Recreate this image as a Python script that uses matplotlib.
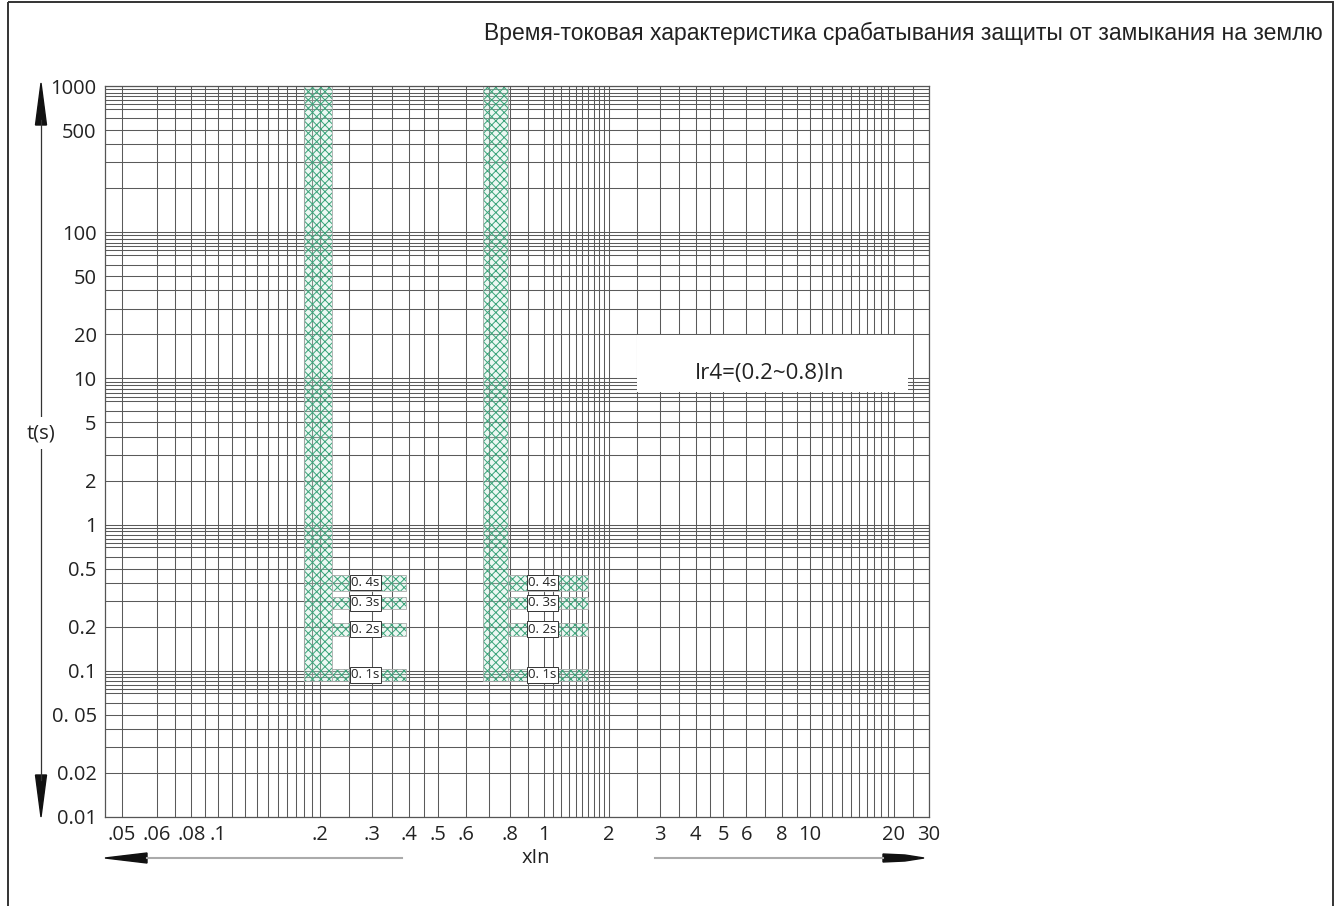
import matplotlib
matplotlib.use("Agg")
import matplotlib.pyplot as plt
import numpy as np
from matplotlib.patches import Rectangle, Polygon
from matplotlib.ticker import FixedLocator, NullFormatter

plt.rcParams['font.family'] = ['Open Sans', 'DejaVu Sans']
plt.rcParams['hatch.linewidth'] = 0.7

# ---- data ----
x_ticks = [0.05, 0.06, 0.08, 0.1, 0.2, 0.3, 0.4, 0.5, 0.6, 0.8, 1, 2, 3, 4, 5, 6, 8, 10, 20, 30]
x_labels = ['.05', '.06', '.08', '.1', '.2', '.3', '.4', '.5', '.6', '.8',
            '1', '2', '3', '4', '5', '6', '8', '10', '20', '30']
y_ticks = [1000, 500, 100, 50, 20, 10, 5, 2, 1, 0.5, 0.2, 0.1, 0.05, 0.02, 0.01]
y_labels = ['1000', '500', '100', '50', '20', '10', '5', '2', '1',
            '0.5', '0.2', '0.1', '0. 05', '0.02', '0.01']

ir4 = [0.2, 0.8]                 # pickup settings (xIn)
band_lo = [0.18, 0.67]           # tolerance band of the pickup
band_hi = [0.22, 0.79]
arm_end = [0.39, 1.6]            # end of the definite-time steps
label_x = [0.255, 0.9]

delay_labels = ['0. 4s', '0. 3s', '0. 2s', '0. 1s']
t_lo = [0.353, 0.266, 0.174, 0.0855]
t_hi = [0.455, 0.321, 0.213, 0.103]

grid_mant_x = [1, 1.25, 1.5, 1.75, 2, 2.25, 2.5, 3, 3.5, 4, 4.5, 5, 5.5, 6, 6.5, 7, 7.5, 8, 8.5, 9, 9.5]
grid_mant_y = [1, 2, 3, 4, 5, 6, 7, 7.5, 8, 8.5, 9, 9.5]

title = 'Время-токовая характеристика срабатывания защиты от замыкания на землю'
note = 'Ir4=(0.2~0.8)In'

# ---- printed x axis is not a clean log scale: tie log10(x) to paper position ----
x_cal = np.log10([0.05, 0.06, 0.1, 0.2, 0.5, 1, 2, 10, 20, 30])
x_paper = np.array([122, 157, 218, 320, 438, 544, 609, 810, 894, 929], float)
s_left = (x_paper[1] - x_paper[0]) / (x_cal[1] - x_cal[0])
s_right = (x_paper[-1] - x_paper[-2]) / (x_cal[-1] - x_cal[-2])


def x_fwd(v):
    l = np.log10(np.maximum(np.asarray(v, float), 1e-9))
    p = np.interp(l, x_cal, x_paper)
    p = np.where(l < x_cal[0], x_paper[0] + (l - x_cal[0]) * s_left, p)
    p = np.where(l > x_cal[-1], x_paper[-1] + (l - x_cal[-1]) * s_right, p)
    return p


def x_inv(p):
    p = np.asarray(p, float)
    l = np.interp(p, x_paper, x_cal)
    l = np.where(p < x_paper[0], x_cal[0] + (p - x_paper[0]) / s_left, l)
    l = np.where(p > x_paper[-1], x_cal[-1] + (p - x_paper[-1]) / s_right, l)
    return 10 ** l


W, H = 1335, 906
fig = plt.figure(figsize=(W / 100, H / 100), dpi=100)
fig.patch.set_facecolor('white')

L, R, T, B = 105, 929, 86, 817
ax = fig.add_axes([L / W, 1 - B / H, (R - L) / W, (B - T) / H])

ax.set_xscale('function', functions=(x_fwd, x_inv))
ax.set_yscale('log')
ax.set_xlim(x_inv(L), x_inv(R))
ax.set_ylim(0.01, 1000)

grid_x = [0.02 * 10 ** k * m for k in range(4) for m in grid_mant_x]
grid_x = [g for g in grid_x if x_inv(L) < g < x_inv(R)]
grid_y = [10.0 ** k * m for k in range(-2, 3) for m in grid_mant_y] + [1000]

ax.set_xticks(x_ticks, x_labels)
ax.set_yticks(y_ticks, y_labels)
ax.xaxis.set_minor_locator(FixedLocator(grid_x))
ax.yaxis.set_minor_locator(FixedLocator(grid_y))
ax.xaxis.set_minor_formatter(NullFormatter())
ax.yaxis.set_minor_formatter(NullFormatter())
ax.tick_params(which='both', length=0, labelsize=14.5, colors='#222')
ax.tick_params(axis='x', pad=6)
ax.tick_params(axis='y', pad=6)
ax.grid(True, which='both', color='#5a5a5a', lw=0.75)
ax.set_axisbelow(True)
for sp in ax.spines.values():
    sp.set_color('#555')
    sp.set_linewidth(0.9)

# ---- tolerance bands ----
green = '#3aa47a'
face = (0.80, 0.93, 0.87, 0.35)
for i in range(len(ir4)):
    pieces = [(band_lo[i], t_lo[-1], band_hi[i] - band_lo[i], 5000 - t_lo[-1])]
    for j in range(len(t_lo)):
        pieces.append((band_hi[i], t_lo[j], arm_end[i] - band_hi[i], t_hi[j] - t_lo[j]))
    for x0, y0, w, h in pieces:
        ax.add_patch(Rectangle((x0, y0), w, h, facecolor=face, edgecolor=green,
                               hatch='xxxx', lw=0, zorder=2))
        ax.add_patch(Rectangle((x0, y0), w, h, fill=False, edgecolor='#aaaaaa',
                               lw=0.6, zorder=2))
    for j in range(len(t_lo)):
        ax.text(label_x[i], np.sqrt(t_lo[j] * t_hi[j]), delay_labels[j], fontsize=9.5,
                ha='left', va='center', color='#222', zorder=5,
                bbox=dict(boxstyle='square,pad=0.1', fc='white', ec='#333', lw=0.7))

# ---- setting note ----
bx0, bx1 = (637 - L) / (R - L), (908 - L) / (R - L)
by0, by1 = (B - 392) / (B - T), (B - 335) / (B - T)
ax.add_patch(Rectangle((bx0, by0), bx1 - bx0, by1 - by0, transform=ax.transAxes,
                       facecolor='white', edgecolor='none', zorder=3))
ax.text((770 - L) / (R - L), (B - 374) / (B - T), note, transform=ax.transAxes,
        ha='center', va='center', fontsize=16, color='#222', zorder=4)

# ---- decorations in figure pixels ----
ov = fig.add_axes([0, 0, 1, 1], zorder=5)
ov.set_xlim(0, W)
ov.set_ylim(H, 0)
ov.axis('off')
ov.patch.set_alpha(0)

ov.add_patch(Rectangle((8, 2), 1325, 920, fill=False, ec='#333', lw=1.4, clip_on=False))
ov.text(1323, 33, title, ha='right', va='center', fontsize=16.5,
        family=['Liberation Sans', 'DejaVu Sans'], color='#222')

# y arrow
ov.plot([41, 41], [120, 780], color='#333', lw=0.9)
ov.add_patch(Polygon([(35.5, 125), (46.5, 125), (41, 83)], closed=True, color='#111'))
ov.add_patch(Polygon([(35.5, 775), (46.5, 775), (41, 817)], closed=True, color='#111'))
ov.text(41, 433, 't(s)', ha='center', va='center', fontsize=14.5, color='#222',
        bbox=dict(boxstyle='square,pad=0.3', fc='white', ec='none'))

# x arrows
ov.plot([147, 402], [858, 858], color='#aaaaaa', lw=1.5)
ov.add_patch(Polygon([(105, 858), (147, 853), (147, 863)], closed=True, color='#111'))
ov.plot([655, 883], [858, 858], color='#aaaaaa', lw=1.5)
ov.add_patch(Polygon([(883, 854), (905, 855), (924, 858), (905, 861), (883, 862)],
                     closed=True, color='#111'))
ov.text(536, 858, 'xIn', ha='center', va='center', fontsize=14.5, color='#222')

fig.savefig('out.png', dpi=100)
